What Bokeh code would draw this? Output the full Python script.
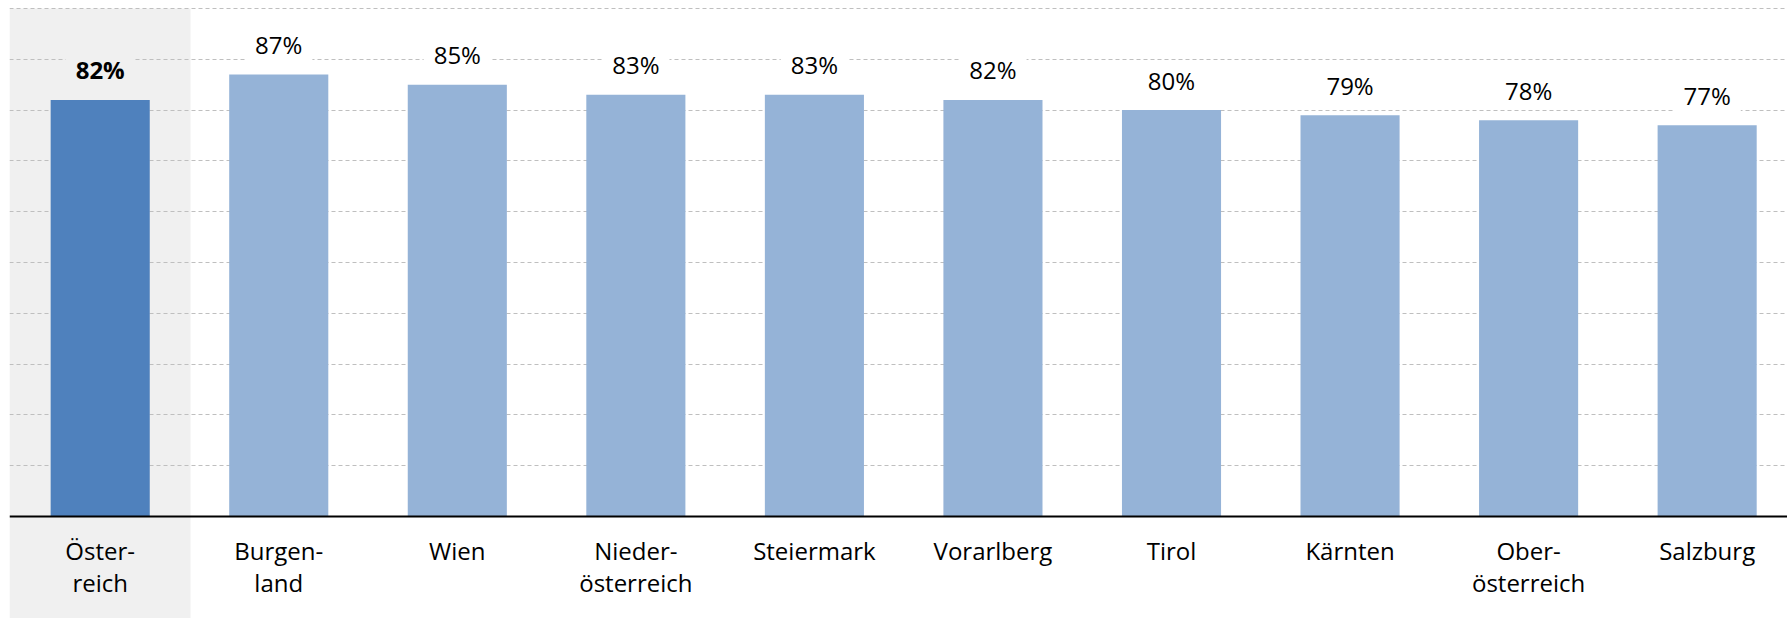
from bokeh.plotting import figure
from bokeh.models import Range1d, FixedTicker, ColumnDataSource, Span
from bokeh.core.properties import value
from bokeh.embed import file_html
from bokeh.resources import INLINE

# ---- data ----
categories = ["Österreich", "Burgenland", "Wien", "Niederösterreich", "Steiermark",
              "Vorarlberg", "Tirol", "Kärnten", "Oberösterreich", "Salzburg"]
tick_labels = ["Öster-\nreich", "Burgen-\nland", "Wien", "Nieder-\nösterreich", "Steiermark",
               "Vorarlberg", "Tirol", "Kärnten", "Ober-\nösterreich", "Salzburg"]
shares = [82, 87, 85, 83, 83, 82, 80, 79, 78, 77]
value_labels = ["82%", "87%", "85%", "83%", "83%", "82%", "80%", "79%", "78%", "77%"]
grid_ticks = [10, 20, 30, 40, 50, 60, 70, 80, 90, 100]

# ---- styles ----
FONT = "Open Sans"
TOTAL_COLOR = "#4f81bd"
STATE_COLOR = "#95b3d7"
BAND_COLOR = "#f0f0f0"

n = len(categories)
pos = [i + 0.5 for i in range(n)]
line1 = [t.split("\n")[0] for t in tick_labels]
line2 = [t.split("\n")[1] if "\n" in t else "" for t in tick_labels]

src = ColumnDataSource(dict(
    x=pos,
    top=shares,
    label=value_labels,
    l1=line1,
    l2=line2,
    color=[TOTAL_COLOR] + [STATE_COLOR] * (n - 1),
    style=["bold"] + ["normal"] * (n - 1),
    bg=[BAND_COLOR] + ["white"] * (n - 1),
))

W, H = 1787, 618
LEFT = 9
x_start = -0.008
x_end = x_start + (W - LEFT) / 178.55
y_scale = 5.08
axis_px = 516
y_range = Range1d(-(H - axis_px) / y_scale, 100 + 8 / y_scale)

p = figure(width=W, height=H, x_range=Range1d(x_start, x_end), y_range=y_range,
           x_axis_location=None, y_axis_location=None,
           toolbar_location=None, output_backend="svg",
           min_border_left=LEFT, min_border_right=0, min_border_top=0, min_border_bottom=0)
p.outline_line_color = None
p.background_fill_color = "white"
p.border_fill_color = "white"

p.xgrid.visible = False
p.ygrid.ticker = FixedTicker(ticks=grid_ticks)
p.ygrid.grid_line_color = "#bfbfbf"
p.ygrid.grid_line_dash = "4 3"
p.ygrid.grid_line_width = 1

# highlight band behind the Austria column
band = p.quad(left=[x_start], right=[pos[0] + 0.506], bottom=[y_range.start], top=[100],
              fill_color=BAND_COLOR, line_color=None)
band.level = "image"

p.vbar(x="x", top="top", width=0.555, bottom=0, source=src,
       fill_color="color", line_color=None)

p.add_layout(Span(location=0, dimension="width", line_color="black", line_width=2))

p.text(x="x", y="top", text="label", source=src,
       text_font=value(FONT), text_font_size="24px", text_font_style="style",
       text_align="center", text_baseline="alphabetic", y_offset=-30,
       text_color="black",
       background_fill_color="bg", padding=[10, 1])

for col, off in (("l1", 34), ("l2", 66)):
    p.text(x="x", y=0, text=col, source=src,
           text_font=value(FONT), text_font_size="24px",
           text_align="center", text_baseline="alphabetic", y_offset=off,
           text_color="black")

open("out.html", "w").write(file_html(p, INLINE))
